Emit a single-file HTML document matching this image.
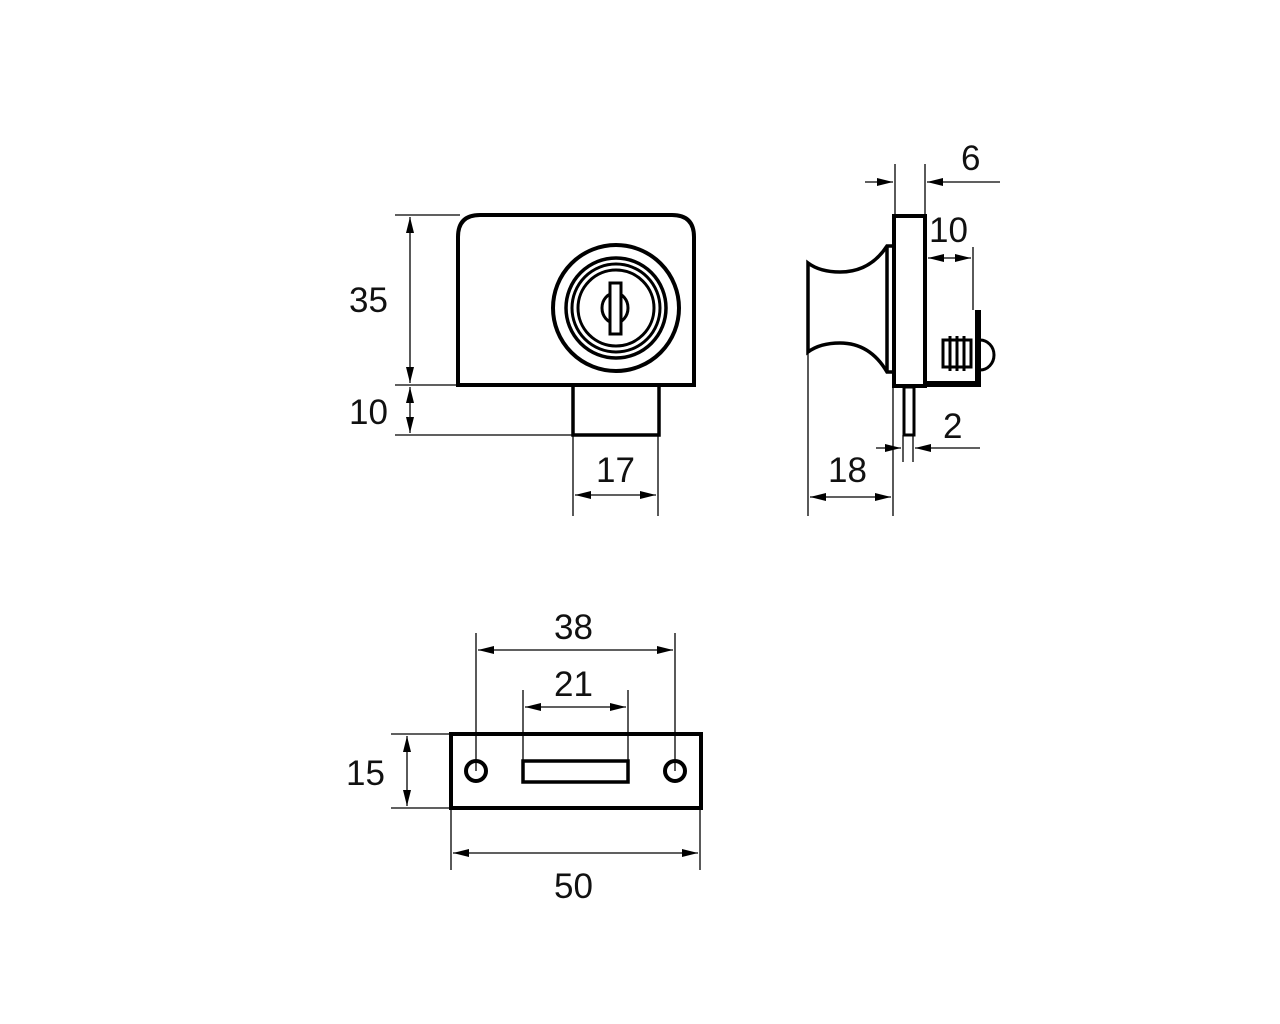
<!DOCTYPE html>
<html><head><style>
html,body{margin:0;padding:0;background:#fff;}
svg{display:block}
text{font-family:"Liberation Sans",sans-serif;font-size:35px;fill:#111}
</style></head><body>
<svg width="1280" height="1024" viewBox="0 0 1280 1024" xmlns="http://www.w3.org/2000/svg">
<defs>
<marker id="a" viewBox="0 0 16 8" refX="16" refY="4" markerWidth="16" markerHeight="8" markerUnits="userSpaceOnUse" orient="auto-start-reverse">
<path d="M0,0 L16,4 L0,8 z" fill="#000"/></marker>
</defs>
<g fill="none" stroke="#000">
<path d="M458,385 L458,237 Q458,215 480,215 L672,215 Q694,215 694,237 L694,385 Z" stroke-width="4"/>
<rect x="573" y="385" width="86" height="50" stroke-width="3.5"/>
<circle cx="616" cy="308" r="63" stroke-width="4"/>
<circle cx="616" cy="308" r="50" stroke-width="3.5"/>
<circle cx="616" cy="308" r="44" stroke-width="3"/>
<circle cx="616" cy="308" r="38" stroke-width="3"/>
<ellipse cx="615" cy="308" rx="13" ry="15" stroke-width="3"/>
<rect x="610" y="283" width="11" height="51" fill="#fff" stroke-width="3"/>
<g stroke-width="1.3">
<line x1="395" y1="215" x2="460" y2="215"/>
<line x1="395" y1="385" x2="458" y2="385"/>
<line x1="395" y1="435" x2="573" y2="435"/>
<line x1="410" y1="217" x2="410" y2="383" marker-start="url(#a)" marker-end="url(#a)"/>
<line x1="410" y1="387" x2="410" y2="433" marker-start="url(#a)" marker-end="url(#a)"/>
<line x1="573" y1="435" x2="573" y2="516"/>
<line x1="658" y1="435" x2="658" y2="516"/>
<line x1="575" y1="495" x2="656" y2="495" marker-start="url(#a)" marker-end="url(#a)"/>
</g>
<rect x="894" y="216" width="31" height="170" stroke-width="4"/>
<path d="M887,246 L887,372" stroke-width="3.5"/>
<path d="M892,246 L887,246 Q870,272 840,272 Q820,272 808,263 L808,352 Q820,343 840,343 Q870,343 887,372 L892,372" stroke-width="3.5"/>
<path d="M926,384 L978,384 L978,310" stroke-width="6"/>
<path d="M980,340 A14,15 0 0 1 980,370" stroke-width="3"/>
<rect x="943" y="340" width="28" height="27" stroke-width="3"/>
<line x1="950" y1="336" x2="950" y2="371" stroke-width="3"/>
<line x1="957" y1="336" x2="957" y2="371" stroke-width="3"/>
<line x1="964" y1="336" x2="964" y2="371" stroke-width="3"/>
<rect x="904" y="387" width="10" height="48" stroke-width="3"/>
<g stroke-width="1.3">
<line x1="895" y1="164" x2="895" y2="215"/>
<line x1="925" y1="164" x2="925" y2="215"/>
<line x1="865" y1="182" x2="893" y2="182" marker-end="url(#a)"/>
<line x1="1000" y1="182" x2="927" y2="182" marker-end="url(#a)"/>
<line x1="973" y1="247" x2="973" y2="310"/>
<line x1="928" y1="258" x2="971" y2="258" marker-start="url(#a)" marker-end="url(#a)"/>
<line x1="903" y1="435" x2="903" y2="462"/>
<line x1="913" y1="435" x2="913" y2="462"/>
<line x1="876" y1="448" x2="901" y2="448" marker-end="url(#a)"/>
<line x1="980" y1="448" x2="915" y2="448" marker-end="url(#a)"/>
<line x1="808" y1="352" x2="808" y2="516"/>
<line x1="893" y1="387" x2="893" y2="516"/>
<line x1="810" y1="497" x2="891" y2="497" marker-start="url(#a)" marker-end="url(#a)"/>
</g>
<rect x="451" y="734" width="250" height="74" stroke-width="4"/>
<circle cx="476" cy="771" r="10" stroke-width="4"/>
<circle cx="675" cy="771" r="10" stroke-width="4"/>
<rect x="523" y="761" width="105" height="21" stroke-width="3.5"/>
<g stroke-width="1.3">
<line x1="476" y1="633" x2="476" y2="771"/>
<line x1="675" y1="633" x2="675" y2="771"/>
<line x1="478" y1="650" x2="673" y2="650" marker-start="url(#a)" marker-end="url(#a)"/>
<line x1="523" y1="690" x2="523" y2="761"/>
<line x1="628" y1="690" x2="628" y2="761"/>
<line x1="525" y1="707" x2="626" y2="707" marker-start="url(#a)" marker-end="url(#a)"/>
<line x1="391" y1="734" x2="451" y2="734"/>
<line x1="391" y1="808" x2="451" y2="808"/>
<line x1="407" y1="736" x2="407" y2="806" marker-start="url(#a)" marker-end="url(#a)"/>
<line x1="451" y1="808" x2="451" y2="870"/>
<line x1="700" y1="808" x2="700" y2="870"/>
<line x1="453" y1="853" x2="698" y2="853" marker-start="url(#a)" marker-end="url(#a)"/>
</g>
</g>
<text x="349" y="312">35</text>
<text x="349" y="424">10</text>
<text x="596" y="482">17</text>
<text x="961" y="170">6</text>
<text x="929" y="242">10</text>
<text x="943" y="438">2</text>
<text x="828" y="482">18</text>
<text x="554" y="639">38</text>
<text x="554" y="696">21</text>
<text x="346" y="785">15</text>
<text x="554" y="898">50</text>
</svg>
</body></html>
